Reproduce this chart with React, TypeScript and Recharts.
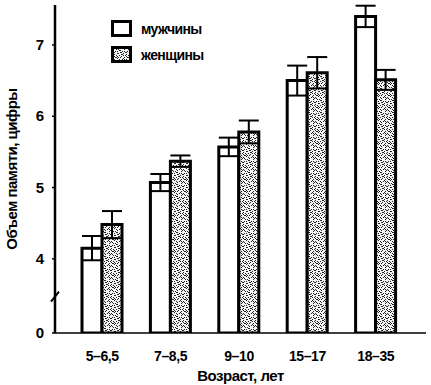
import { BarChart, Bar, XAxis, YAxis, ErrorBar } from "recharts"

const ageGroups = ["5–6,5", "7–8,5", "9–10", "15–17", "18–35"]
const menMeans = [4.15, 5.07, 5.57, 6.5, 7.4]
const menErrors = [0.17, 0.12, 0.13, 0.21, 0.15]
const womenMeans = [4.48, 5.37, 5.78, 6.61, 6.51]
const womenErrors = [0.19, 0.08, 0.16, 0.22, 0.14]

// "0" на оси стоит у нижнего края (разрыв шкалы между 0 и 4)
const AXIS_ZERO = 2.96
const BREAK_AT = 3.47
const yTicks = [AXIS_ZERO, BREAK_AT, 4, 5, 6, 7]

const FONT = "'Liberation Sans Narrow', 'Arial Narrow', 'Liberation Sans', sans-serif"

const data = ageGroups.map((age, i) => ({
  age,
  men: menMeans[i],
  menErr: menErrors[i],
  women: womenMeans[i],
  womenErr: womenErrors[i],
}))

// точки крапа для штриховки "женщины"
const DOTS = [
  [0, 0], [3, 1], [6, 0], [9, 2], [1, 3], [5, 3], [8, 4], [11, 5],
  [2, 6], [4, 5], [7, 7], [10, 8], [0, 9], [3, 8], [6, 10], [9, 11],
  [1, 11], [5, 9], [11, 1], [8, 9], [2, 2], [10, 6], [4, 11], [7, 3],
  [1, 5], [6, 5], [9, 6], [3, 10], [8, 1], [0, 7], [5, 11], [10, 10],
  [2, 9], [7, 11], [4, 2], [11, 8], [6, 7], [9, 4], [1, 1], [3, 6],
]

function YTick({ x, y, payload }: any) {
  const v = payload.value
  if (v === BREAK_AT) {
    const ax = x + 11
    return (
      <g>
        <line x1={ax - 4} y1={y + 5} x2={ax + 4} y2={y - 5} stroke="#000" strokeWidth={2} />
      </g>
    )
  }
  return (
    <g>
      <line x1={x + 8} y1={y} x2={x + 11} y2={y} stroke="#000" strokeWidth={1.5} />
      <text x={x} y={y} dy={5} textAnchor="end" fontFamily={FONT} fontWeight="bold" fontSize={15} fill="#000">
        {v === AXIS_ZERO ? "0" : v}
      </text>
    </g>
  )
}

function LegendBox({ top, label, pattern }: { top: number; label: string; pattern?: boolean }) {
  return (
    <div style={{ position: "absolute", left: 111, top, display: "flex", alignItems: "center" }}>
      <svg width={22} height={17}>
        <rect x={1.5} y={1.5} width={18} height={14} fill={pattern ? "url(#stipple)" : "#fff"} stroke="#000" strokeWidth={3} />
      </svg>
      <span style={{ marginLeft: 8, fontFamily: FONT, fontWeight: "bold", fontSize: 14, letterSpacing: -0.6 }}>
        {label}
      </span>
    </div>
  )
}

export default function App() {
  return (
    <div style={{ position: "absolute", left: 0, top: 0, width: 431, height: 385, background: "#fff" }}>
      <BarChart
        width={431}
        height={385}
        data={data}
        margin={{ top: 5, right: 5, bottom: 0, left: 0 }}
        barGap={0}
        barSize={20}
      >
        <defs>
          <pattern id="stipple" width={12} height={12} patternUnits="userSpaceOnUse">
            <rect width={12} height={12} fill="#f4f4f4" />
            {DOTS.map(([dx, dy], i) => (
              <rect key={i} x={dx} y={dy} width={1} height={1} fill="#222" />
            ))}
          </pattern>
        </defs>
        <XAxis
          dataKey="age"
          height={52}
          padding={{ left: 13, right: 16 }}
          tickLine={false}
          axisLine={{ stroke: "#000", strokeWidth: 1.5 }}
          tickMargin={12}
          tick={{ fill: "#000", fontFamily: FONT, fontWeight: "bold", fontSize: 14, letterSpacing: -0.4 }}
          label={{
            value: "Возраст, лет",
            position: "insideBottom",
            offset: 4,
            fill: "#000",
            fontFamily: FONT,
            fontWeight: "bold",
            fontSize: 15,
            letterSpacing: -0.5,
          }}
        />
        <YAxis
          width={55}
          domain={[AXIS_ZERO, 7.56]}
          ticks={yTicks}
          interval={0}
          allowDataOverflow
          tickLine={false}
          tickSize={3}
          tickMargin={8}
          axisLine={{ stroke: "#000", strokeWidth: 2.5 }}
          tick={<YTick />}
          label={{
            value: "Объем памяти, цифры",
            angle: -90,
            position: "insideLeft",
            offset: 12,
            fill: "#000",
            fontFamily: FONT,
            fontWeight: "bold",
            fontSize: 15,
            letterSpacing: -0.5,
            style: { textAnchor: "middle" },
          }}
        />
        <Bar dataKey="men" fill="#fff" stroke="#000" strokeWidth={3} isAnimationActive={false}>
          <ErrorBar dataKey="menErr" width={10} stroke="#000" strokeWidth={2} isAnimationActive={false} />
        </Bar>
        <Bar dataKey="women" fill="url(#stipple)" stroke="#000" strokeWidth={3} isAnimationActive={false}>
          <ErrorBar dataKey="womenErr" width={10} stroke="#000" strokeWidth={2} isAnimationActive={false} />
        </Bar>
      </BarChart>
      <LegendBox top={20} label="мужчины" />
      <LegendBox top={46} label="женщины" pattern />
    </div>
  )
}
